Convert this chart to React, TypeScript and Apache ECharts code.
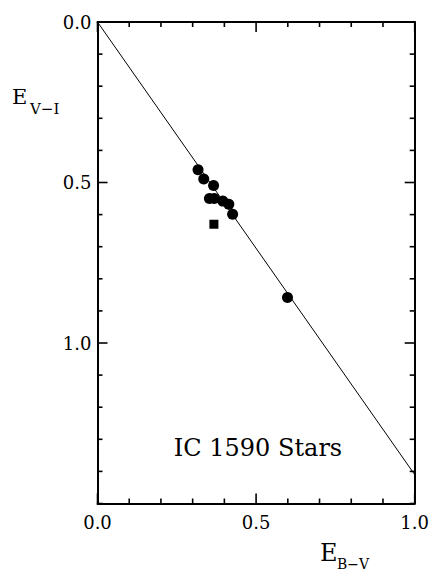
import React, { useEffect, useRef } from "react";
import * as echarts from "echarts";

// Colour excess of IC 1590 stars: E(B-V) against E(V-I)
const starEBV = [0.317, 0.335, 0.366, 0.353, 0.368, 0.395, 0.414, 0.426, 0.599];
const starEVI = [0.46, 0.489, 0.509, 0.55, 0.55, 0.558, 0.568, 0.599, 0.858];
const squareEBV = [0.367];
const squareEVI = [0.63];
// Reddening line through the origin
const lineEBV = [0, 1.0];
const lineEVI = [0, 1.41];
const xTickLabels = ["0.0", "0.5", "1.0"];
const yTickLabels = ["0.0", "0.5", "1.0"];
// Tick marks drawn on all four sides of the frame
const xTickValues = [0, 0.1, 0.2, 0.3, 0.4, 0.5, 0.6, 0.7, 0.8, 0.9, 1.0];
const yTickValues = [0, 0.1, 0.2, 0.3, 0.4, 0.5, 0.6, 0.7, 0.8, 0.9, 1.0, 1.1, 1.2, 1.3, 1.4, 1.5];
const majorTickValues = [0, 0.5, 1.0];

const FONT = "DejaVu Serif";
const X_MIN = 0;
const X_MAX = 1;
const Y_MIN = 0;
const Y_MAX = 1.5;

export default function App() {
  const ref = useRef<HTMLDivElement>(null);

  useEffect(() => {
    if (!ref.current) return;
    const chart = echarts.init(ref.current, null, { renderer: "svg" });

    const fmt = (labels: string[]) => (v: number) => {
      const s = v.toFixed(1);
      return labels.includes(s) ? s : "";
    };

    const frame = () => ({
      axisLine: { show: true, onZero: false, lineStyle: { color: "#000", width: 2 } },
      axisTick: { show: false },
      splitLine: { show: false },
    });

    const tickLen = (v: number) => (majorTickValues.some((m) => Math.abs(m - v) < 1e-9) ? 10 : 5);
    const tickStyle = () => ({ stroke: "#000", lineWidth: 1.6 });

    chart.setOption({
      animation: false,
      backgroundColor: "#fff",
      grid: { left: 97.5, right: 16, top: 22, bottom: 67.5, containLabel: false },
      xAxis: [
        {
          type: "value",
          min: X_MIN,
          max: X_MAX,
          interval: 0.5,
          position: "bottom",
          ...frame(),
          axisLabel: {
            show: true,
            formatter: fmt(xTickLabels),
            color: "#000",
            fontFamily: FONT,
            fontSize: 18,
            margin: 10,
          },
        },
        {
          type: "value",
          min: X_MIN,
          max: X_MAX,
          interval: 0.5,
          position: "top",
          ...frame(),
          axisLabel: { show: false },
        },
      ],
      yAxis: [
        {
          type: "value",
          min: Y_MIN,
          max: Y_MAX,
          interval: 0.5,
          inverse: true,
          position: "left",
          ...frame(),
          axisLabel: {
            show: true,
            formatter: fmt(yTickLabels),
            color: "#000",
            fontFamily: FONT,
            fontSize: 18,
            margin: 6,
          },
        },
        {
          type: "value",
          min: Y_MIN,
          max: Y_MAX,
          interval: 0.5,
          inverse: true,
          position: "right",
          ...frame(),
          axisLabel: { show: false },
        },
      ],
      series: [
        // ticks on bottom and top edges
        {
          type: "custom",
          clip: false,
          silent: true,
          data: xTickValues.map((v) => [v, Y_MAX]),
          z: 5,
          renderItem: (_p: any, api: any) => {
            const v = api.value(0);
            const len = tickLen(v);
            const bot = api.coord([v, Y_MAX]);
            const top = api.coord([v, Y_MIN]);
            return {
              type: "group",
              children: [
                { type: "line", shape: { x1: bot[0], y1: bot[1], x2: bot[0], y2: bot[1] - len }, style: tickStyle() },
                { type: "line", shape: { x1: top[0], y1: top[1], x2: top[0], y2: top[1] + len }, style: tickStyle() },
              ],
            };
          },
        },
        // ticks on left and right edges
        {
          type: "custom",
          clip: false,
          silent: true,
          data: yTickValues.map((v) => [X_MIN, v]),
          z: 5,
          renderItem: (_p: any, api: any) => {
            const v = api.value(1);
            const len = tickLen(v);
            const left = api.coord([X_MIN, v]);
            const right = api.coord([X_MAX, v]);
            return {
              type: "group",
              children: [
                { type: "line", shape: { x1: left[0], y1: left[1], x2: left[0] + len, y2: left[1] }, style: tickStyle() },
                { type: "line", shape: { x1: right[0], y1: right[1], x2: right[0] - len, y2: right[1] }, style: tickStyle() },
              ],
            };
          },
        },
        {
          type: "line",
          data: lineEBV.map((x, i) => [x, lineEVI[i]]),
          showSymbol: false,
          lineStyle: { color: "#000", width: 1 },
          z: 1,
        },
        {
          type: "scatter",
          data: starEBV.map((x, i) => [x, starEVI[i]]),
          symbol: "circle",
          symbolSize: 11,
          itemStyle: { color: "#000", opacity: 1 },
          z: 3,
        },
        {
          type: "scatter",
          data: squareEBV.map((x, i) => [x, squareEVI[i]]),
          symbol: "rect",
          symbolSize: 9,
          itemStyle: { color: "#000", opacity: 1 },
          z: 3,
        },
      ],
      graphic: [
        {
          type: "text",
          x: 258,
          y: 448,
          style: {
            text: "IC 1590 Stars",
            fontFamily: FONT,
            fontSize: 24,
            fill: "#000",
            align: "center",
            verticalAlign: "middle",
          },
        },
        // y-axis title: E with subscript V−I
        {
          type: "text",
          x: 12,
          y: 97,
          style: { text: "E", fontFamily: FONT, fontSize: 21, fill: "#000", verticalAlign: "middle" },
        },
        {
          type: "text",
          x: 30,
          y: 109,
          style: { text: "V\u2212I", fontFamily: FONT, fontSize: 15, fill: "#000", verticalAlign: "middle" },
        },
        // x-axis title: E with subscript B−V
        {
          type: "text",
          x: 320,
          y: 553,
          style: { text: "E", fontFamily: FONT, fontSize: 24, fill: "#000", verticalAlign: "middle" },
        },
        {
          type: "text",
          x: 337,
          y: 564,
          style: { text: "B\u2212V", fontFamily: FONT, fontSize: 14, fill: "#000", verticalAlign: "middle" },
        },
      ],
    });

    return () => chart.dispose();
  }, []);

  return <div ref={ref} style={{ width: 432, height: 571, position: "absolute", left: 0, top: 0 }} />;
}
